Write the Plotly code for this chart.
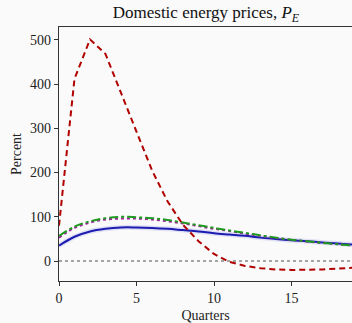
import plotly.graph_objects as go

quarters = list(range(0, 20))
red_dashed = [80, 412, 501, 468, 380, 292, 205, 135, 82, 45, 16, -2, -11, -16, -19, -20, -20, -19, -17, -15]
blue_solid = [35, 55, 67, 73, 76, 76, 75, 73, 70, 67, 63, 60, 57, 53, 50, 47, 45, 42, 40, 37]
green_dashdot = [57, 78, 90, 97, 100, 99, 97, 93, 87, 81, 75, 69, 64, 58, 53, 48, 45, 41, 38, 35]
purple_dotted = [53, 75, 87, 94, 96, 96, 94, 90, 85, 79, 73, 68, 62, 57, 52, 48, 44, 41, 38, 35]
zero_line = [0] * len(quarters)

FONT = "Liberation Serif"

fig = go.Figure()
fig.add_trace(go.Scatter(x=quarters, y=zero_line, mode="lines",
                         line=dict(color="#888888", width=1.5, dash="dot")))
fig.add_trace(go.Scatter(x=quarters, y=blue_solid, mode="lines",
                         line=dict(color="rgba(90,90,220,0.15)", width=5, shape="spline")))
fig.add_trace(go.Scatter(x=quarters, y=blue_solid, mode="lines",
                         line=dict(color="#1c1cb0", width=2, shape="spline")))
fig.add_trace(go.Scatter(x=quarters, y=purple_dotted, mode="lines",
                         line=dict(color="#a020a0", width=2, dash="dot", shape="spline")))
fig.add_trace(go.Scatter(x=quarters, y=green_dashdot, mode="lines",
                         line=dict(color="#1e9a1e", width=2, dash="dashdot", shape="spline")))
fig.add_trace(go.Scatter(x=quarters, y=red_dashed, mode="lines",
                         line=dict(color="#b00000", width=2, dash="6px,4px")))

fig.update_layout(
    width=352, height=323,
    margin=dict(l=59, r=0, t=27, b=42),
    paper_bgcolor="#fafafa", plot_bgcolor="#fafafa",
    showlegend=False,
    font=dict(family=FONT, size=14, color="#222222"),
    title=dict(text="Domestic energy prices, <i>P</i><sub><i>E</i></sub>",
               x=0.585, xanchor="center", y=0.962, yanchor="middle",
               font=dict(family=FONT, size=17, color="#111111")),
    xaxis=dict(range=[0, 18.9], tickvals=[0, 5, 10, 15], showgrid=False, zeroline=False,
               showline=True, linecolor="#333333", linewidth=1.2, mirror=True,
               ticks="outside", ticklen=4, tickcolor="#333333",
               title=dict(text="Quarters", standoff=5, font=dict(family=FONT, size=14))),
    yaxis=dict(range=[-45, 529], tickvals=[0, 100, 200, 300, 400, 500], showgrid=False,
               zeroline=False, showline=True, linecolor="#333333", linewidth=1.2, mirror=True,
               ticks="outside", ticklen=4, tickcolor="#333333",
               title=dict(text="Percent", standoff=5, font=dict(family=FONT, size=14))),
)

fig.write_html("out.html")
